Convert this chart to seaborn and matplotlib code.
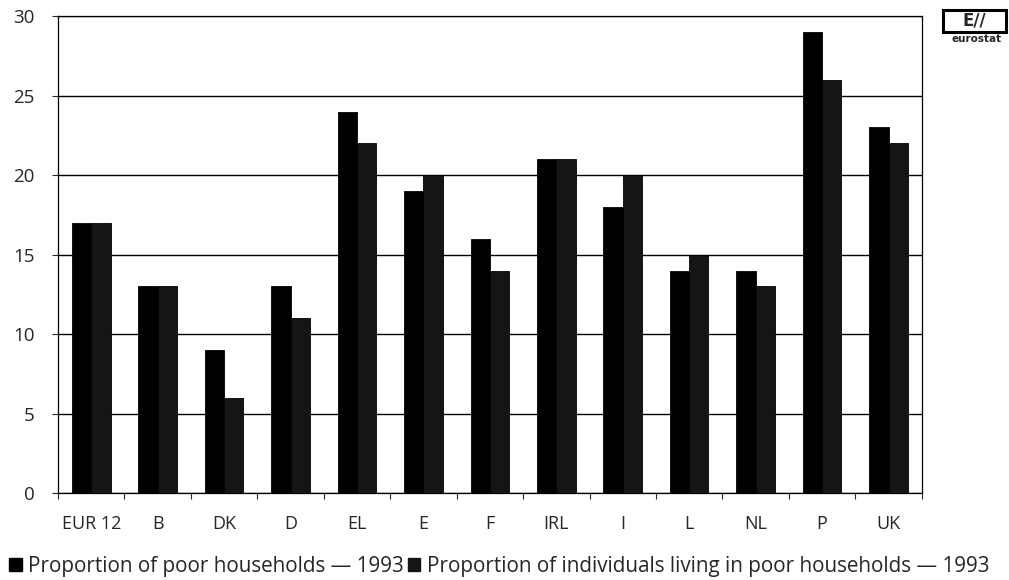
import numpy as np
import pandas as pd
import matplotlib
matplotlib.use("Agg")
import matplotlib.pyplot as plt
import seaborn as sns
from matplotlib.patches import Rectangle, Patch

# dane
countries = ['EUR 12', 'B', 'DK', 'D', 'EL', 'E', 'F', 'IRL', 'I', 'L', 'NL', 'P', 'UK']
households = [17, 13, 9, 13, 24, 19, 16, 21, 18, 14, 14, 29, 23]
individuals = [17, 13, 6, 11, 22, 20, 14, 21, 20, 15, 13, 26, 22]
series = ['Proportion of poor households \u2014 1993',
          'Proportion of individuals living in poor households \u2014 1993']
y_ticks = [0, 5, 10, 15, 20, 25, 30]

df = pd.DataFrame({
    'country': countries * 2,
    'value': households + individuals,
    'series': [series[0]] * len(countries) + [series[1]] * len(countries),
})

sns.set_style('white')
plt.rcParams['font.family'] = ['Open Sans', 'DejaVu Sans']

fig = plt.figure(figsize=(10.09, 5.8), dpi=100)
ax = fig.add_axes([0.0575, 0.15, 0.856, 0.822])

colors = ['#000000', '#151515']
sns.barplot(data=df, x='country', y='value', hue='series', palette=colors,
            width=0.58, gap=0, ax=ax, legend=False, zorder=3,
            edgecolor='black', linewidth=0.6)

ax.set_ylim(0, 30)
ax.set_xlim(-0.5, len(countries) - 0.5)
ax.set_yticks(y_ticks)
ax.set_yticklabels([str(t) for t in y_ticks], fontsize=13.5)
ax.yaxis.grid(True, color='black', linewidth=1.0, zorder=0)
ax.set_axisbelow(True)
ax.set_xlabel('')
ax.set_ylabel('')
ax.tick_params(axis='x', length=0, labelsize=13, pad=16)
ax.tick_params(axis='y', length=4, width=0.8, direction='out', left=True, pad=13)
ax.set_xticks(np.arange(-0.5, len(countries), 1), minor=True)
ax.tick_params(axis='x', which='minor', length=4, width=0.8, direction='out', bottom=True)
for s in ax.spines.values():
    s.set_color('black')
    s.set_linewidth(0.9)

# legenda
handles = [Patch(facecolor=c, edgecolor=c) for c in colors]
fig.legend(handles, series, loc='lower left', bbox_to_anchor=(-0.005, -0.02),
           ncol=2, frameon=False, fontsize=14.9, handlelength=0.6,
           handleheight=0.6, handletextpad=0.3, columnspacing=0.2, borderpad=0.2)

# logo eurostat
fig.patches.append(Rectangle((0.935, 0.945), 0.062, 0.038, transform=fig.transFigure,
                             fill=False, edgecolor='black', linewidth=2.2))
fig.text(0.966, 0.964, 'E//', transform=fig.transFigure, ha='center', va='center',
         fontsize=12, fontweight='bold', family='DejaVu Sans')
fig.text(0.968, 0.932, 'eurostat', transform=fig.transFigure, ha='center', va='center',
         fontsize=7.5, fontweight='bold', family='DejaVu Sans')

fig.savefig('out.png', dpi=100)
